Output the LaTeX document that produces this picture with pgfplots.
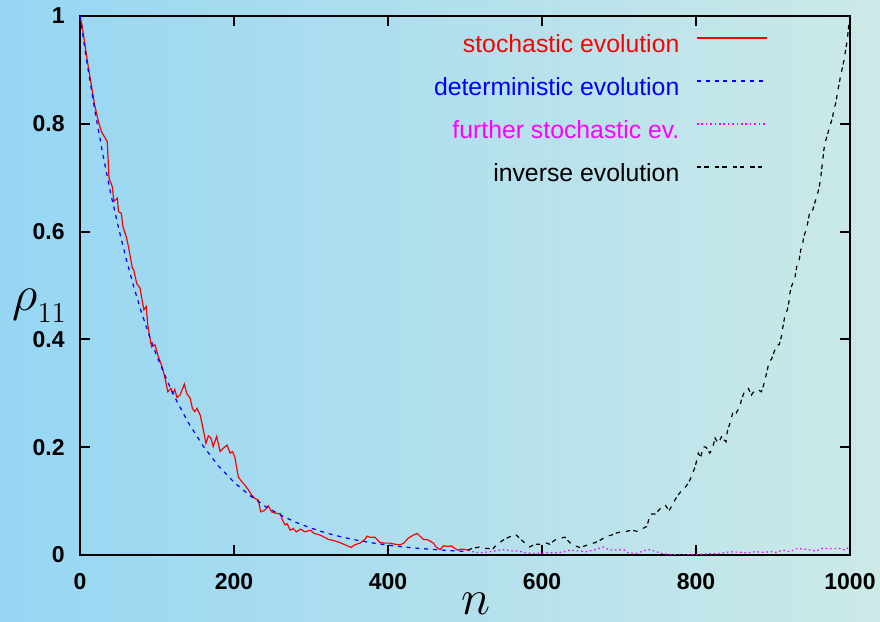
\documentclass[border=0pt]{standalone}
\usepackage{fontspec}
\setmainfont{Liberation Sans}
\usepackage{pgfplots}
\pgfplotsset{compat=1.18}
\definecolor{bgL}{RGB}{150,214,243}
\definecolor{bgR}{RGB}{204,233,231}
\definecolor{mag}{RGB}{255,0,255}
\definecolor{rd}{RGB}{255,0,0}
\definecolor{bl}{RGB}{0,0,255}
\begin{document}
\begin{tikzpicture}
\shade[left color=bgL, right color=bgR] (-40pt,-33.5pt) rectangle (400pt,277.5pt);
\begin{axis}[
  at={(0,0)}, anchor=south west,
  scale only axis, width=385pt, height=269.5pt,
  xmin=0, xmax=1000, ymin=0, ymax=1,
  xtick={0,200,400,600,800,1000},
  ytick={0,0.2,0.4,0.6,0.8,1},
  minor tick num=0,
  tick align=inside, major tick length=5pt,
  tick style={black, line width=1pt},
  axis line style={line width=1.2pt},
  /pgf/number format/assume math mode=true,
  /pgf/number format/1000 sep={},
  ticklabel style={font=\fontsize{11.5}{13}\selectfont\bfseries},
  yticklabel style={inner sep=0pt, xshift=-7.5pt},
  xticklabel style={inner sep=0pt, yshift=-9pt},
  xlabel={\fontsize{26}{30}\selectfont$n$},
  xlabel style={at={(axis description cs:0.514,0)}, anchor=base, inner sep=0pt, yshift=-30pt},
  ylabel={{\fontsize{27}{30}\selectfont$\rho$}\raisebox{-6pt}{\fontsize{14}{16}\selectfont$11$}},
  ylabel style={rotate=-90, at={(axis description cs:0,0.4538)}, anchor=base west, inner sep=0pt, xshift=-34pt},
  legend plot pos=right,
  legend cell align=right,
  legend image code/.code={\draw[#1] (0pt,4pt) -- (35pt,4pt);},
  legend style={at={(axis description cs:0.8935,0.9666)}, anchor=north east,
    draw=none, fill=none, inner sep=0pt, row sep=10pt, column sep=8.5pt,
    font=\fontsize{12.4}{14}\selectfont,
    nodes={inner sep=0pt, text height=9pt, text depth=2.5pt}},
]
\addplot[rd, line width=0.6pt] coordinates {
(0,1.0) (2.6,0.983) (10.4,0.909) (19,0.835) (24,0.804) (28,0.785) (35.4,0.767) (37.7,0.699)
(42,0.683) (44,0.656) (48.5,0.662) (50,0.637) (53.7,0.634) (55.8,0.609) (60,0.591) (63,0.572)
(68,0.532) (69.6,0.530) (73.6,0.504) (78,0.495) (81,0.470) (83,0.455) (86,0.461) (88,0.427)
(92,0.393) (93,0.386) (97.4,0.390) (101.7,0.368) (106,0.352) (110,0.331) (114,0.303) (118,0.309)
(121,0.300) (123,0.307) (126,0.292) (130,0.297) (135.5,0.317) (138.5,0.300) (143,0.291) (146,0.272)
(149,0.266) (152,0.272) (156,0.260) (158,0.247) (161,0.226) (163.6,0.207) (166.7,0.221) (170,0.217)
(173,0.201) (177.5,0.220) (182,0.192) (186,0.198) (191,0.204) (195,0.189) (198,0.192) (201,0.182)
(205.6,0.145) (210,0.136) (214,0.130) (218.6,0.121) (223,0.111) (227,0.105) (231.6,0.102) (234.6,0.080)
(240,0.083) (244.6,0.091) (249,0.080) (255,0.077) (260,0.077) (263,0.065) (266,0.056) (269,0.058)
(273,0.046) (277,0.049) (281,0.043) (286.6,0.048) (292,0.043) (299.6,0.046) (304,0.040) (307,0.039)
(311.7,0.037) (316,0.034) (322.5,0.029) (329,0.027) (337.7,0.023) (344,0.019) (352,0.014) (357,0.019)
(363.6,0.022) (370,0.029) (373,0.035) (376.6,0.033) (383,0.033) (389.6,0.023) (396,0.022) (402.6,0.022)
(409,0.020) (415.6,0.019) (420.8,0.022) (426,0.031) (433,0.037) (438,0.040) (441.6,0.035) (446,0.029)
(452,0.028) (459,0.022) (463,0.014) (467.5,0.010) (472,0.017) (478,0.016) (482,0.017) (487,0.012)
(491,0.009) (495.6,0.011) (501,0.010) (504,0.009)
};
\addlegendentry{\textcolor{rd}{stochastic evolution}}
\addplot[bl, line width=0.6pt, dash pattern=on 2pt off 2.4pt] coordinates {
(0,1) (10,0.905) (20,0.819) (30,0.741) (40,0.670) (50,0.607) (60,0.549) (70,0.497) (80,0.449)
(90,0.407) (100,0.368) (120,0.301) (140,0.247) (160,0.202) (180,0.165) (200,0.135) (220,0.111)
(240,0.0907) (260,0.0743) (280,0.0608) (300,0.0498) (320,0.0408) (340,0.0334) (360,0.0273)
(380,0.0224) (400,0.0183) (420,0.0150) (440,0.0123) (460,0.0101) (480,0.0082) (500,0.0067)
};
\addlegendentry{\textcolor{bl}{deterministic evolution}}
\addplot[mag, line width=0.6pt, dash pattern=on 0.8pt off 1.4pt] coordinates {
(504,0.009) (510,0.006) (519,0.004) (532,0.006) (545,0.009) (552,0.010) (558,0.008) (571,0.007)
(578,0.004) (589,0.003) (606,0.004) (619,0.004) (628,0.006) (636,0.009) (645,0.008) (658,0.006)
(669,0.010) (680,0.015) (686,0.010) (693,0.009) (706,0.010) (712,0.004) (723,0.003) (732,0.008)
(740,0.010) (749,0.006) (755,0.003) (765,0.001) (780,0.0) (800,0.001) (814,0.002) (831,0.003)
(844,0.006) (857,0.005) (866,0.004) (876,0.006) (887,0.005) (898,0.006) (904,0.005) (913,0.009)
(922,0.006) (931,0.012) (939,0.011) (950,0.009) (956,0.007) (963,0.012) (972,0.012) (981,0.012)
(987,0.012) (994,0.009) (998,0.014) (1000,0.012)
};
\addlegendentry{\textcolor{mag}{further stochastic ev.}}
\addplot[black, line width=0.6pt, dash pattern=on 2.2pt off 1.5pt on 2.2pt off 3pt] coordinates {
(504,0.009) (508.7,0.012) (519.5,0.015) (528,0.012) (536.7,0.012) (541,0.019) (550,0.028) (558.4,0.034)
(565,0.039) (571,0.031) (578,0.022) (584,0.015) (591,0.020) (597,0.020) (604,0.023) (610,0.020)
(617,0.028) (623,0.031) (630,0.033) (636,0.023) (643,0.017) (649,0.014) (656,0.017) (662,0.020)
(669,0.023) (675,0.027) (684,0.035) (690.5,0.037) (697,0.041) (703.5,0.043) (710,0.044) (716.5,0.046)
(723,0.044) (729.4,0.048) (736,0.053) (738,0.062) (741,0.076) (746.8,0.076) (753,0.085) (760,0.093)
(765,0.082) (770.5,0.096) (775,0.108) (781,0.119) (784,0.122) (790,0.133) (794,0.145) (797.4,0.158)
(800,0.170) (803,0.189) (806,0.181) (809.5,0.201) (813,0.200) (818,0.189) (821.6,0.198) (824.7,0.217)
(829,0.207) (833,0.219) (839,0.210) (840.6,0.229) (844,0.244) (847.6,0.263) (852,0.263) (857,0.275)
(859,0.288) (863.6,0.306) (868,0.309) (872,0.297) (876.6,0.306) (881,0.306) (885,0.303) (887,0.311)
(889.6,0.325) (892.6,0.343) (895,0.359) (898,0.363) (901,0.375) (905,0.390) (908,0.390) (911,0.406)
(912.6,0.421) (915.6,0.445) (918.6,0.455) (920.8,0.470) (922,0.486) (924,0.498) (928.6,0.516) (930.8,0.535)
(934,0.547) (936,0.566) (938.6,0.578) (940,0.591) (943,0.603) (946,0.622) (948,0.640) (951.6,0.640)
(954.5,0.655) (957.6,0.668) (960,0.683) (962,0.699) (963,0.714) (964.5,0.730) (966,0.751) (967.5,0.764)
(970.5,0.779) (973,0.791) (977.5,0.813) (979,0.826) (982,0.841) (983.6,0.857) (986,0.875) (988,0.891)
(990.5,0.906) (992.6,0.921) (995,0.943) (996.5,0.955) (997.8,0.974) (999,0.993) (1000,1.0)
};
\addlegendentry{\textcolor{black}{inverse evolution}}
\end{axis}
\pgfresetboundingbox
\useasboundingbox (-40pt,-33.5pt) rectangle (400pt,277.5pt);
\end{tikzpicture}
\end{document}
